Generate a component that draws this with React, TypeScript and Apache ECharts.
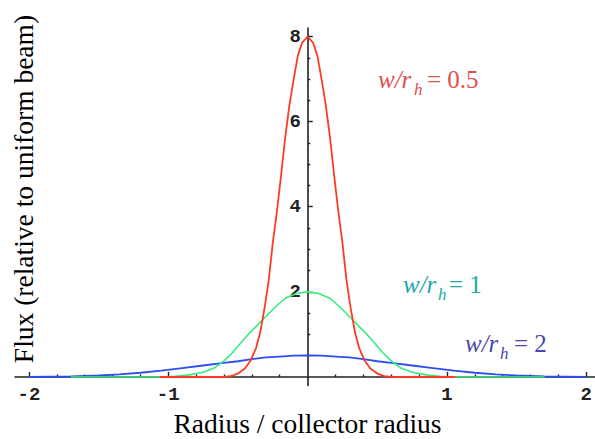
import React, { useEffect, useRef } from "react";
import * as echarts from "echarts";

// ---- data ----
const redR = [-1.06, -0.6, -0.55, -0.5, -0.45, -0.41, -0.37, -0.34, -0.31, -0.28, -0.25, -0.22, -0.19, -0.16, -0.13, -0.1, -0.07, -0.04, 0, 0.04, 0.07, 0.1, 0.13, 0.16, 0.19, 0.22, 0.25, 0.28, 0.31, 0.34, 0.37, 0.41, 0.45, 0.5, 0.55, 0.6, 1.06];
const redF = [0, 0, 0.02, 0.08, 0.2, 0.38, 0.68, 1.05, 1.6, 2.25, 3.15, 3.9, 4.75, 5.65, 6.4, 7.0, 7.55, 7.85, 8.0, 7.85, 7.55, 7.0, 6.4, 5.65, 4.75, 3.9, 3.15, 2.25, 1.6, 1.05, 0.68, 0.38, 0.2, 0.08, 0.02, 0, 0];

const greenR = [-1.7, -1.05, -0.95, -0.85, -0.75, -0.67, -0.6, -0.54, -0.48, -0.42, -0.36, -0.3, -0.23, -0.16, -0.08, 0, 0.08, 0.16, 0.23, 0.3, 0.36, 0.42, 0.48, 0.54, 0.6, 0.67, 0.75, 0.85, 0.95, 1.05, 1.7];
const greenF = [0, 0, 0.015, 0.05, 0.11, 0.21, 0.38, 0.57, 0.8, 1.02, 1.22, 1.42, 1.65, 1.85, 1.96, 2.0, 1.96, 1.85, 1.65, 1.42, 1.22, 1.02, 0.8, 0.57, 0.38, 0.21, 0.11, 0.05, 0.015, 0, 0];

const blueR = [-2, -1.7, -1.5, -1.35, -1.2, -1.05, -0.9, -0.75, -0.6, -0.5, -0.4, -0.3, -0.2, -0.1, 0, 0.1, 0.2, 0.3, 0.4, 0.5, 0.6, 0.75, 0.9, 1.05, 1.2, 1.35, 1.5, 1.7, 2];
const blueF = [0, 0.012, 0.035, 0.06, 0.1, 0.15, 0.21, 0.27, 0.33, 0.37, 0.42, 0.46, 0.48, 0.5, 0.51, 0.5, 0.48, 0.46, 0.42, 0.37, 0.33, 0.27, 0.21, 0.15, 0.1, 0.06, 0.035, 0.012, 0];

const xMajorTicks = [-2, -1, 1, 2];
const xMinorTicks = [-1.8, -1.6, -1.4, -1.2, -0.8, -0.6, -0.4, -0.2, 0.2, 0.4, 0.6, 0.8, 1.2, 1.4, 1.6, 1.8];
const yMajorTicks = [2, 4, 6, 8];
const yMinorTicks = [0.5, 1, 1.5, 2.5, 3, 3.5, 4.5, 5, 5.5, 6.5, 7, 7.5];

const curveLabels = [
  { ratio: "0.5", color: "#e24f4f" },
  { ratio: "1", color: "#22a8a4" },
  { ratio: "2", color: "#4848aa" },
];

const xTitle = "Radius / collector radius";
const yTitle = "Flux (relative to uniform beam)";

const zip = (xs: number[], ys: number[]) => xs.map((x, i) => [x, ys[i]]);

export default function App() {
  const ref = useRef<HTMLDivElement>(null);
  useEffect(() => {
    if (!ref.current) return;
    const chart = echarts.init(ref.current, null, { renderer: "svg" });
    const axisColor = "#222";
    const serif = "Liberation Serif";
    const tickFont = { fontFamily: "Liberation Mono", fontSize: 19, fontWeight: "bold" as const, color: "#222" };
    const xMin = -2.1, xMax = 2.06, yMin = -0.2, yMax = 8.2;
    const gLeft = 15, gRight = 0, gTop = 28, gBottom = 53.5;
    const W = 595, H = 439;
    const gW = W - gLeft - gRight, gH = H - gTop - gBottom;
    // place the axes through the origin (Mathematica style) via offsets
    const yAxisOffset = -((0 - xMin) / (xMax - xMin)) * gW;
    const xAxisOffset = -((0 - yMin) / (yMax - yMin)) * gH;

    const labelPos = [
      { x: 378, hx: 414, ex: 427, base: 88 },
      { x: 403, hx: 438, ex: 449, base: 293 },
      { x: 465, hx: 500, ex: 514, base: 352 },
    ];
    const graphics: any[] = [];
    curveLabels.forEach((c, i) => {
      const p = labelPos[i];
      const fs = 25;
      const mid = p.base - 0.3375 * fs;
      graphics.push({
        type: "text", x: p.x, y: mid,
        style: { text: "w/r", fontFamily: serif, fontSize: fs, fontStyle: "italic", fill: c.color, textAlign: "left", align: "left", textVerticalAlign: "middle", verticalAlign: "middle" },
      });
      graphics.push({
        type: "text", x: p.hx, y: p.base + 7 - 0.3375 * 17,
        style: { text: "h", fontFamily: serif, fontSize: 17, fontStyle: "italic", fill: c.color, textAlign: "left", align: "left", textVerticalAlign: "middle", verticalAlign: "middle" },
      });
      graphics.push({
        type: "text", x: p.ex, y: mid,
        style: { text: "= " + c.ratio, fontFamily: serif, fontSize: fs, fill: c.color, textAlign: "left", align: "left", textVerticalAlign: "middle", verticalAlign: "middle" },
      });
    });
    graphics.push({
      type: "text", x: 307.5, y: 433 - 0.3375 * 27.5,
      style: { text: xTitle, fontFamily: serif, fontSize: 27.5, fill: "#000", textAlign: "center", align: "center", textVerticalAlign: "middle", verticalAlign: "middle" },
    });
    graphics.push({
      type: "text", x: 23.5, y: 189, rotation: Math.PI / 2,
      style: { text: yTitle, fontFamily: serif, fontSize: 27.5, fill: "#000", textAlign: "center", align: "center", textVerticalAlign: "middle", verticalAlign: "middle" },
    });

    const option: any = {
      animation: false,
      grid: { left: gLeft, right: gRight, top: gTop, bottom: gBottom, containLabel: false },
      xAxis: [
        {
          type: "value", min: xMin, max: xMax, position: "bottom", offset: xAxisOffset,
          axisLine: { onZero: false, lineStyle: { color: axisColor, width: 1.6 } },
          axisTick: { inside: true, length: 5, customValues: xMajorTicks, lineStyle: { color: axisColor, width: 1.4 } },
          axisLabel: { customValues: xMajorTicks, margin: 9, ...tickFont },
          splitLine: { show: false },
        },
        {
          type: "value", min: xMin, max: xMax, position: "bottom", offset: xAxisOffset,
          axisLine: { show: false, onZero: false },
          axisTick: { inside: true, length: 2.5, customValues: xMinorTicks, lineStyle: { color: axisColor, width: 1.4 } },
          axisLabel: { show: false },
          splitLine: { show: false },
        },
      ],
      yAxis: [
        {
          type: "value", min: yMin, max: yMax, position: "left", offset: yAxisOffset,
          axisLine: { onZero: false, lineStyle: { color: axisColor, width: 1.6 } },
          axisTick: { inside: true, length: 5, customValues: yMajorTicks, lineStyle: { color: axisColor, width: 1.4 } },
          axisLabel: { customValues: yMajorTicks, margin: 7, ...tickFont },
          splitLine: { show: false },
        },
        {
          type: "value", min: yMin, max: yMax, position: "left", offset: yAxisOffset,
          axisLine: { show: false, onZero: false },
          axisTick: { inside: true, length: 2.5, customValues: yMinorTicks, lineStyle: { color: axisColor, width: 1.4 } },
          axisLabel: { show: false },
          splitLine: { show: false },
        },
      ],
      series: [
        { type: "line", name: "w/rh = 2", data: zip(blueR, blueF), showSymbol: false, lineStyle: { color: "#2b4ff0", width: 1.8 }, itemStyle: { color: "#2b4ff0" } },
        { type: "line", name: "w/rh = 1", data: zip(greenR, greenF), showSymbol: false, lineStyle: { color: "#38ec7c", width: 1.6 }, itemStyle: { color: "#38ec7c" } },
        { type: "line", name: "w/rh = 0.5", data: zip(redR, redF), showSymbol: false, lineStyle: { color: "#ff3a22", width: 1.8 }, itemStyle: { color: "#ff3a22" } },
      ],
      graphic: graphics,
    };
    chart.setOption(option);
    return () => chart.dispose();
  }, []);
  return <div ref={ref} style={{ position: "absolute", left: 0, top: 0, width: 595, height: 439 }} />;
}
